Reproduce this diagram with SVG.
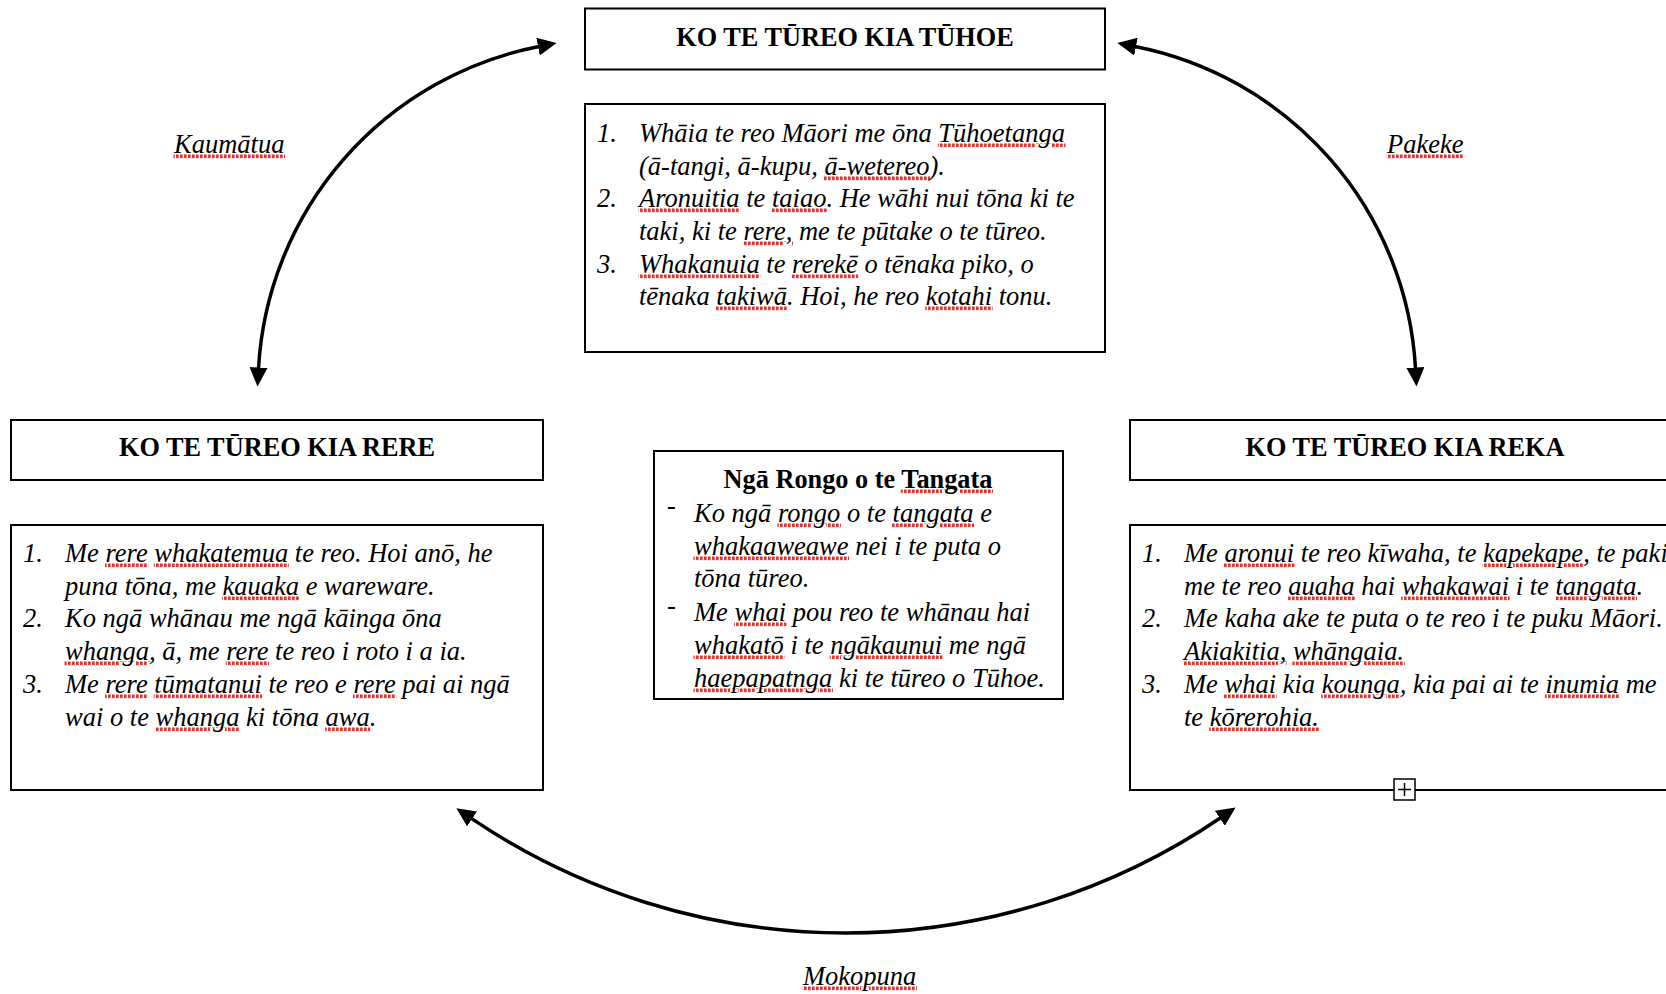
<svg xmlns="http://www.w3.org/2000/svg" width="1666" height="994" viewBox="0 0 1666 994">
<style>
.box{fill:#fff;stroke:#000;stroke-width:2}
.t{font-family:"Liberation Serif","Times New Roman",serif;font-size:26.5px;fill:#000}
.b{font-weight:bold;font-size:26.3px}
.i{font-style:italic}
.sp{text-decoration:underline;fill:url(#dots);stroke:url(#dots);stroke-width:1}
.sp tspan{fill:#000;stroke:none}
.arc{fill:none;stroke:#000;stroke-width:3.5}
</style>
<defs>
<pattern id="dots" patternUnits="userSpaceOnUse" x="0" y="0" width="4" height="4"><rect width="2.6" height="4" fill="#e8302a"/></pattern>
<marker id="ah" viewBox="0 0 19 18" refX="1" refY="9" markerWidth="19" markerHeight="18" markerUnits="userSpaceOnUse" orient="auto-start-reverse"><path d="M0,0 L19,9 L0,18 z" fill="#000"/></marker>
</defs>
<rect width="1666" height="994" fill="#fff"/>

<g id="node-tuhoe-title">
<rect class="box" x="585" y="8.5" width="520" height="61"/>
<text class="t b" x="845" y="46" text-anchor="middle">KO TE TŪREO KIA TŪHOE</text>
</g>
<g id="node-tuhoe-list">
<rect class="box" x="585" y="104" width="520" height="248"/>
<text class="t i" x="597" y="142">1.</text>
<text class="t i" x="639" y="142">Whāia te reo Māori me ōna <tspan class="sp"><tspan>Tūhoetanga</tspan></tspan></text>
<text class="t i" x="639" y="175">(ā-tangi, ā-kupu, <tspan class="sp"><tspan>ā-wetereo</tspan></tspan>).</text>
<text class="t i" x="597" y="207">2.</text>
<text class="t i" x="639" y="207"><tspan class="sp"><tspan>Aronuitia</tspan></tspan> te <tspan class="sp"><tspan>taiao</tspan></tspan>. He wāhi nui tōna ki te</text>
<text class="t i" x="639" y="240">taki, ki te <tspan class="sp"><tspan>rere,</tspan></tspan> me te pūtake o te tūreo.</text>
<text class="t i" x="597" y="273">3.</text>
<text class="t i" x="639" y="273"><tspan class="sp"><tspan>Whakanuia</tspan></tspan> te <tspan class="sp"><tspan>rerekē</tspan></tspan> o tēnaka piko, o</text>
<text class="t i" x="639" y="305">tēnaka <tspan class="sp"><tspan>takiwā</tspan></tspan>. Hoi, he reo <tspan class="sp"><tspan>kotahi</tspan></tspan> tonu.</text>
</g>

<g id="node-rere-title">
<rect class="box" x="11" y="420" width="532" height="60"/>
<text class="t b" x="277" y="456" text-anchor="middle">KO TE TŪREO KIA RERE</text>
</g>
<g id="node-rere-list">
<rect class="box" x="11" y="525" width="532" height="265"/>
<text class="t i" x="23" y="562">1.</text>
<text class="t i" x="65" y="562">Me <tspan class="sp"><tspan>rere</tspan></tspan> <tspan class="sp"><tspan>whakatemua</tspan></tspan> te reo. Hoi anō, he</text>
<text class="t i" x="65" y="595">puna tōna, me <tspan class="sp"><tspan>kauaka</tspan></tspan> e wareware.</text>
<text class="t i" x="23" y="627">2.</text>
<text class="t i" x="65" y="627">Ko ngā whānau me ngā kāinga ōna</text>
<text class="t i" x="65" y="660"><tspan class="sp"><tspan>whanga,</tspan></tspan> ā, me <tspan class="sp"><tspan>rere</tspan></tspan> te reo i roto i a ia.</text>
<text class="t i" x="23" y="693">3.</text>
<text class="t i" x="65" y="693">Me <tspan class="sp"><tspan>rere</tspan></tspan> <tspan class="sp"><tspan>tūmatanui</tspan></tspan> te reo e <tspan class="sp"><tspan>rere</tspan></tspan> pai ai ngā</text>
<text class="t i" x="65" y="726">wai o te <tspan class="sp"><tspan>whanga</tspan></tspan> ki tōna <tspan class="sp"><tspan>awa</tspan></tspan>.</text>
</g>

<g id="node-reka-title">
<rect class="box" x="1130" y="420" width="550" height="60"/>
<text class="t b" x="1405" y="456" text-anchor="middle">KO TE TŪREO KIA REKA</text>
</g>
<g id="node-reka-list">
<rect class="box" x="1130" y="525" width="550" height="265"/>
<text class="t i" x="1142" y="562">1.</text>
<text class="t i" x="1184" y="562">Me <tspan class="sp"><tspan>aronui</tspan></tspan> te reo kīwaha, te <tspan class="sp"><tspan>kapekape</tspan></tspan>, te paki</text>
<text class="t i" x="1184" y="595">me te reo <tspan class="sp"><tspan>auaha</tspan></tspan> hai <tspan class="sp"><tspan>whakawai</tspan></tspan> i te <tspan class="sp"><tspan>tangata</tspan></tspan>.</text>
<text class="t i" x="1142" y="627">2.</text>
<text class="t i" x="1184" y="627">Me kaha ake te puta o te reo i te puku Māori.</text>
<text class="t i" x="1184" y="660"><tspan class="sp"><tspan>Akiakitia,</tspan></tspan> <tspan class="sp"><tspan>whāngaia.</tspan></tspan></text>
<text class="t i" x="1142" y="693">3.</text>
<text class="t i" x="1184" y="693">Me <tspan class="sp"><tspan>whai</tspan></tspan> kia <tspan class="sp"><tspan>kounga</tspan></tspan>, kia pai ai te <tspan class="sp"><tspan>inumia</tspan></tspan> me</text>
<text class="t i" x="1184" y="726">te <tspan class="sp"><tspan>kōrerohia.</tspan></tspan></text>
</g>
<g id="table-handle">
<rect x="1394" y="779" width="21" height="21" fill="#fff" stroke="#000" stroke-width="1.5"/>
<path d="M1398,789.5 H1411 M1404.5,783 V796" stroke="#000" stroke-width="1.5" fill="none"/>
</g>

<g id="node-rongo">
<rect class="box" x="654" y="451" width="409" height="248"/>
<text class="t b" x="858" y="488" text-anchor="middle">Ngā Rongo o te <tspan class="sp"><tspan>Tangata</tspan></tspan></text>
<text class="t" x="667" y="514">-</text>
<text class="t i" x="694" y="522">Ko ngā <tspan class="sp"><tspan>rongo</tspan></tspan> o te <tspan class="sp"><tspan>tangata</tspan></tspan> e</text>
<text class="t i" x="694" y="555"><tspan class="sp"><tspan>whakaaweawe</tspan></tspan> nei i te puta o</text>
<text class="t i" x="694" y="587">tōna tūreo.</text>
<text class="t" x="667" y="614">-</text>
<text class="t i" x="694" y="621">Me <tspan class="sp"><tspan>whai</tspan></tspan> pou reo te whānau hai</text>
<text class="t i" x="694" y="654"><tspan class="sp"><tspan>whakatō</tspan></tspan> i te <tspan class="sp"><tspan>ngākaunui</tspan></tspan> me ngā</text>
<text class="t i" x="694" y="687"><tspan class="sp"><tspan>haepapatnga</tspan></tspan> ki te tūreo o Tūhoe.</text>
</g>

<g id="connectors">
<path class="arc" d="M258.5,368.6 A348,348 0 0 1 539,46.5" marker-start="url(#ah)" marker-end="url(#ah)"/>
<path class="arc" d="M1415.5,368.6 A348,348 0 0 0 1135,46.5" marker-start="url(#ah)" marker-end="url(#ah)"/>
<path class="arc" d="M471.3,818.4 A668,668 0 0 0 1220.7,817.7" marker-start="url(#ah)" marker-end="url(#ah)"/>
<text class="t i" x="174" y="153"><tspan class="sp"><tspan>Kaumātua</tspan></tspan></text>
<text class="t i" x="1387" y="153"><tspan class="sp"><tspan>Pakeke</tspan></tspan></text>
<text class="t i" x="803" y="985"><tspan class="sp"><tspan>Mokopuna</tspan></tspan></text>
</g>
</svg>
